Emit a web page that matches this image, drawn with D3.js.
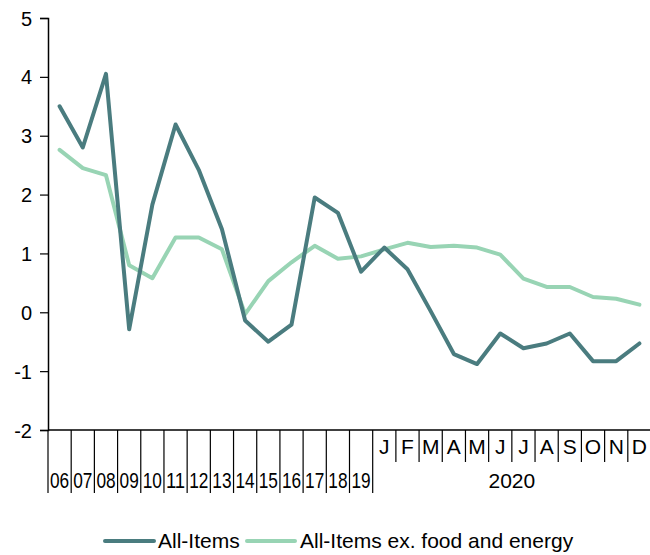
<!DOCTYPE html>
<html>
<head>
<meta charset="utf-8">
<script src="https://d3js.org/d3.v7.min.js"></script>
<style>
  body { margin: 0; background: #fff; }
  text { font-family: "Liberation Sans", Arial, sans-serif; fill: #000; }
</style>
</head>
<body>
<script>
// categories: 14 years then 12 months of 2020
var years = ["06","07","08","09","10","11","12","13","14","15","16","17","18","19"];
var months = ["J","F","M","A","M","J","J","A","S","O","N","D"];
var monthYear = "2020";

var allItems = [3.5, 2.8, 4.05, -0.29, 1.83, 3.19, 2.42, 1.41, -0.14, -0.5, -0.21, 1.95, 1.69, 0.69,
                1.1, 0.73, 0.02, -0.71, -0.88, -0.36, -0.61, -0.53, -0.36, -0.83, -0.83, -0.53];
var exFoodEnergy = [2.76, 2.45, 2.33, 0.8, 0.58, 1.27, 1.27, 1.07, -0.03, 0.53, 0.85, 1.13, 0.91, 0.95,
                    1.07, 1.18, 1.11, 1.13, 1.1, 0.98, 0.57, 0.43, 0.43, 0.26, 0.23, 0.13];
var yTicks = [-2, -1, 0, 1, 2, 3, 4, 5];

var darkColor = "#4a7c7f";
var lightColor = "#98d4b4";

var w = 650, h = 555;
var mLeft = 48, mRight = 651, mTop = 18, mBottom = 430;

var svg = d3.select("body").append("svg")
  .attr("width", w).attr("height", h);

var n = years.length + months.length;
var x = d3.scaleBand().domain(d3.range(n)).range([mLeft, mRight]).padding(0);
var y = d3.scaleLinear().domain([-2, 5]).range([mBottom, mTop]);

// y axis (plain hyphen for negatives)
var yAxis = d3.axisLeft(y).tickValues(yTicks).tickSize(8)
  .tickFormat(function(d) { return String(d); });
var gy = svg.append("g").attr("transform", "translate(" + mLeft + ",0)").call(yAxis);
gy.select(".domain").attr("stroke", "#000").attr("stroke-width", 1.5);
gy.selectAll(".tick line").attr("stroke", "#000").attr("stroke-width", 1.2);
gy.selectAll(".tick text").attr("font-size", "20px").attr("x", -16).attr("dy", "0.35em")
  .style("font-family", "Liberation Sans, Arial, sans-serif");

// x axis baseline
svg.append("line")
  .attr("x1", mLeft).attr("x2", mRight).attr("y1", mBottom).attr("y2", mBottom)
  .attr("stroke", "#000").attr("stroke-width", 1.5);

// separators
var bounds = d3.range(n + 1);
svg.selectAll("line.sep").data(bounds).enter().append("line")
  .attr("class", "sep")
  .attr("x1", function(d) { return mLeft + d * x.bandwidth(); })
  .attr("x2", function(d) { return mLeft + d * x.bandwidth(); })
  .attr("y1", mBottom)
  .attr("y2", function(d) { return d <= years.length ? 493 : 462; })
  .attr("stroke", "#000").attr("stroke-width", 1.2);

// year labels (squeezed into their bands)
svg.selectAll("text.yr").data(years).enter().append("text")
  .attr("class", "yr")
  .attr("x", function(d, i) { return x(i) + x.bandwidth() / 2; })
  .attr("y", 488)
  .attr("text-anchor", "middle")
  .attr("font-size", "22px")
  .attr("textLength", x.bandwidth() - 4)
  .attr("lengthAdjust", "spacingAndGlyphs")
  .text(function(d) { return d; });

// month labels
svg.selectAll("text.mo").data(months).enter().append("text")
  .attr("class", "mo")
  .attr("x", function(d, i) { return x(years.length + i) + x.bandwidth() / 2; })
  .attr("y", 454)
  .attr("text-anchor", "middle")
  .attr("font-size", "21px")
  .text(function(d) { return d; });

svg.append("text")
  .attr("x", (x(years.length) + mRight) / 2)
  .attr("y", 488)
  .attr("text-anchor", "middle")
  .attr("font-size", "21px")
  .text(monthYear);

// lines
var line = d3.line()
  .x(function(d, i) { return x(i) + x.bandwidth() / 2; })
  .y(function(d) { return y(d); });

svg.append("path").datum(exFoodEnergy)
  .attr("d", line).attr("fill", "none")
  .attr("stroke", lightColor).attr("stroke-width", 4)
  .attr("stroke-linejoin", "round").attr("stroke-linecap", "round");

svg.append("path").datum(allItems)
  .attr("d", line).attr("fill", "none")
  .attr("stroke", darkColor).attr("stroke-width", 4)
  .attr("stroke-linejoin", "round").attr("stroke-linecap", "round");

// legend
var legend = [
  { name: "All-Items", color: darkColor, x1: 105, x2: 154, tx: 158 },
  { name: "All-Items ex. food and energy", color: lightColor, x1: 247, x2: 295, tx: 300 }
];
var lg = svg.selectAll("g.lg").data(legend).enter().append("g").attr("class", "lg");
lg.append("line")
  .attr("x1", function(d) { return d.x1; }).attr("x2", function(d) { return d.x2; })
  .attr("y1", 541).attr("y2", 541)
  .attr("stroke", function(d) { return d.color; }).attr("stroke-width", 4)
  .attr("stroke-linecap", "round");
lg.append("text")
  .attr("x", function(d) { return d.tx; })
  .attr("y", 548)
  .attr("font-size", "21px")
  .text(function(d) { return d.name; });
</script>
</body>
</html>
